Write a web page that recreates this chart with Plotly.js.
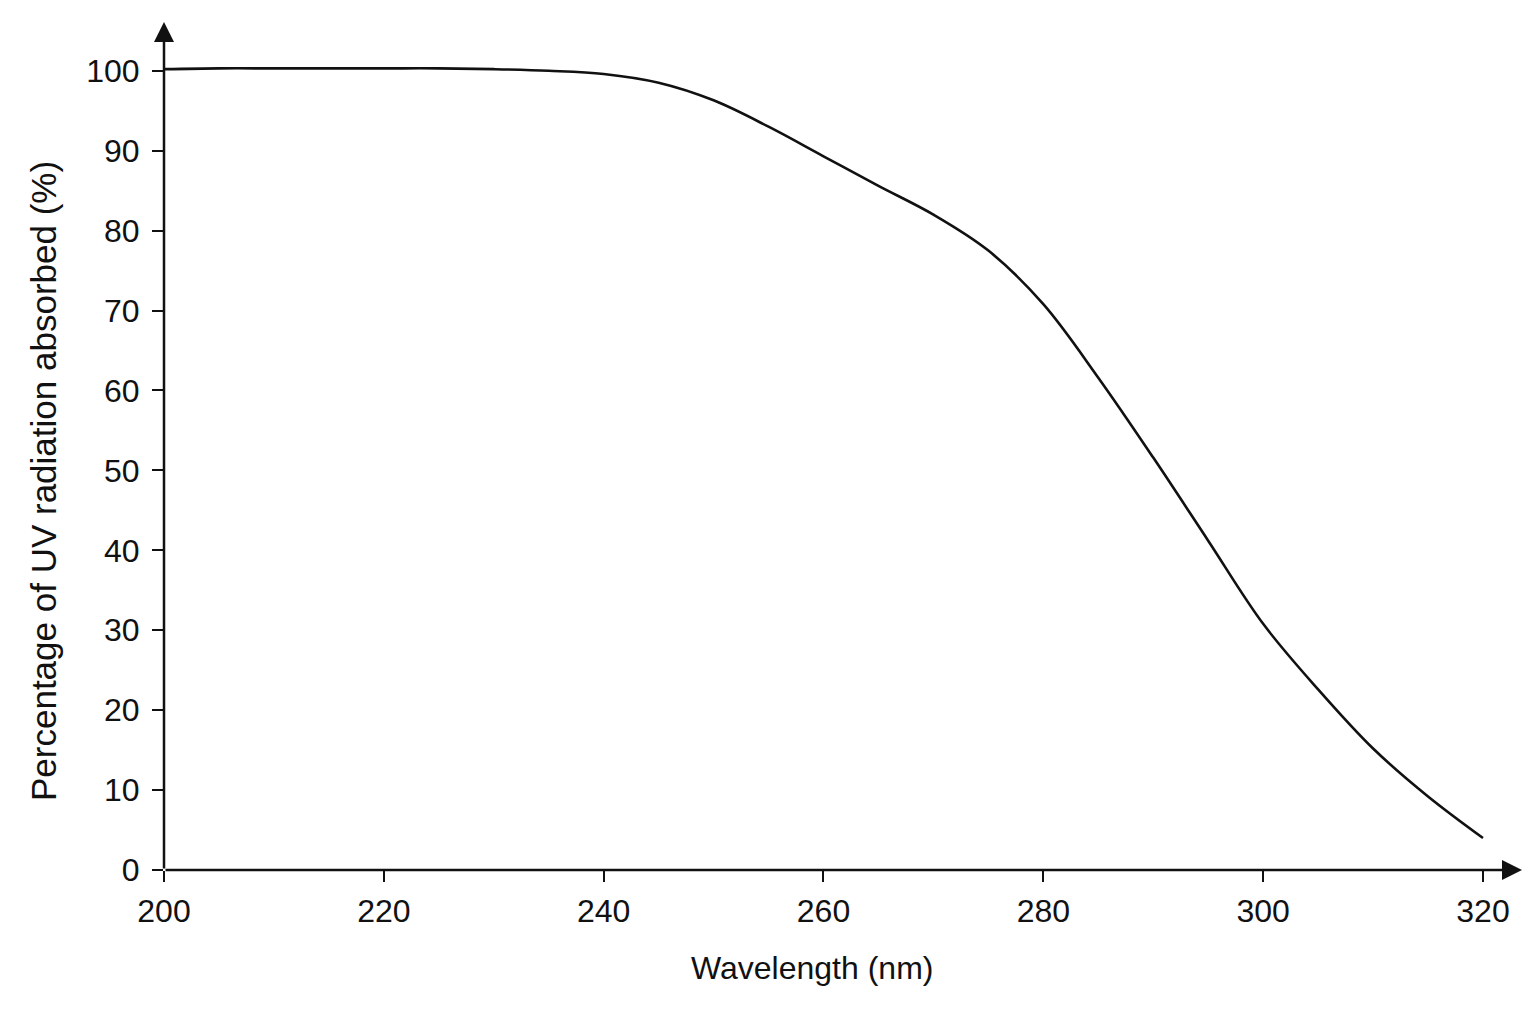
<!DOCTYPE html>
<html>
<head>
<meta charset="utf-8">
<script src="https://cdn.plot.ly/plotly-3.0.1.min.js"></script>
<style>
  html, body { margin: 0; padding: 0; background: #fff; }
  #chart { width: 1536px; height: 1024px; }
</style>
</head>
<body>
<div id="chart"></div>
<script>
// Absorption curve, every 5 nm
const wavelength = [200, 205, 210, 215, 220, 225, 230, 235, 240, 245, 250, 255, 260,
                    265, 270, 275, 280, 285, 290, 295, 300, 305, 310, 315, 320];
const absorbed = [100.2, 100.3, 100.3, 100.3, 100.3, 100.3, 100.2, 100.0, 99.6, 98.5, 96.3, 93.0, 89.3,
                  85.6, 82.0, 77.5, 70.8, 61.6, 51.6, 41.2, 30.8, 22.6, 15.2, 9.2, 4.0];

const xTicks = [200, 220, 240, 260, 280, 300, 320];
const yTicks = [0, 10, 20, 30, 40, 50, 60, 70, 80, 90, 100];

const xTitle = 'Wavelength (nm)';
const yTitle = 'Percentage of UV radiation absorbed (%)';

const xRange = [200, 323.55];
const yRange = [0, 106.1];

const fontFamily = 'Arial, "Liberation Sans", Helvetica, sans-serif';
const ink = '#111';

const traces = [{
  x: wavelength,
  y: absorbed,
  mode: 'lines',
  line: { color: ink, width: 2.6, shape: 'spline', smoothing: 1 },
  hoverinfo: 'x+y',
  showlegend: false
}];

// main axes carry the outer half of each tick, overlay axes the inner half
const baseAxis = {
  showgrid: false,
  zeroline: false,
  showline: false,
  tickmode: 'array',
  ticklen: 11,
  tickwidth: 2,
  tickcolor: ink,
  fixedrange: true
};

// arrowed axis lines
function axisArrow(x, y) {
  return {
    x, y, ax: 200, ay: 0,
    xref: 'x', yref: 'y', axref: 'x', ayref: 'y',
    text: '', showarrow: true,
    arrowhead: 2, arrowsize: 1.6, arrowwidth: 2.5, arrowcolor: ink
  };
}

const layout = {
  width: 1536,
  height: 1024,
  margin: { l: 164, r: 14, t: 22, b: 154 },
  paper_bgcolor: '#fff',
  plot_bgcolor: '#fff',
  font: { family: fontFamily, size: 32, color: ink },
  showlegend: false,
  xaxis: {
    ...baseAxis,
    range: xRange,
    tickvals: xTicks,
    ticktext: xTicks.map(String),
    ticks: 'outside',
    ticklabelstandoff: 2,
    tickfont: { size: 32, color: ink }
  },
  yaxis: {
    ...baseAxis,
    range: yRange,
    tickvals: yTicks,
    ticktext: yTicks.map(String),
    ticks: 'outside',
    ticklabelstandoff: 6,
    tickfont: { size: 32, color: ink }
  },
  xaxis2: {
    ...baseAxis,
    range: xRange,
    overlaying: 'x',
    anchor: 'y',
    side: 'bottom',
    tickvals: xTicks.slice(1),
    ticks: 'inside',
    showticklabels: false
  },
  yaxis2: {
    ...baseAxis,
    range: yRange,
    overlaying: 'y',
    anchor: 'x',
    side: 'left',
    tickvals: yTicks.slice(1, -1),
    ticks: 'inside',
    showticklabels: false
  },
  annotations: [
    axisArrow(xRange[1], 0),
    axisArrow(200, yRange[1]),
    // axis titles sit off-centre in the reference, so place them by hand
    {
      text: xTitle, xref: 'paper', yref: 'paper',
      x: (812 - 164) / 1358, y: (870 - 968) / 848,
      xanchor: 'center', yanchor: 'middle', showarrow: false,
      font: { size: 32, color: ink }
    },
    {
      text: yTitle, xref: 'paper', yref: 'paper',
      x: (43 - 164) / 1358, y: (870 - 481) / 848,
      xanchor: 'center', yanchor: 'middle', showarrow: false, textangle: -90,
      font: { size: 35, color: ink }
    }
  ]
};

Plotly.newPlot('chart', traces, layout, { displayModeBar: false, staticPlot: true });
</script>
</body>
</html>
